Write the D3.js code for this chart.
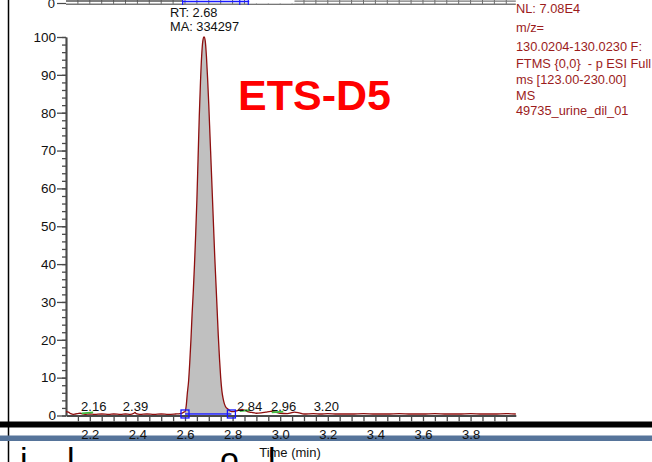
<!DOCTYPE html>
<html>
<head>
<meta charset="utf-8">
<script src="https://cdn.jsdelivr.net/npm/d3@7"></script>
<style>
  html, body { margin: 0; padding: 0; background: #fff; }
  svg { display: block; font-family: "Liberation Sans", Arial, Helvetica, sans-serif; }
  text { white-space: pre; }
</style>
</head>
<body>
<svg id="chart" width="652" height="462"></svg>
<script>
// ---- chromatogram trace: retention time (min) and relative abundance (%) ----
const traceTime = [
  2.100, 2.110, 2.120, 2.130, 2.140, 2.150, 2.160, 2.170, 2.180, 2.200,
  2.220, 2.250, 2.280, 2.300, 2.330, 2.350, 2.370, 2.385, 2.390, 2.395,
  2.410, 2.440, 2.470, 2.500, 2.530, 2.560, 2.580, 2.590, 2.595,
  2.600, 2.605, 2.610, 2.615, 2.620, 2.625, 2.630, 2.635, 2.640, 2.645,
  2.650, 2.655, 2.660, 2.665, 2.670, 2.675, 2.680, 2.685, 2.690, 2.695,
  2.700, 2.705, 2.710, 2.715, 2.720, 2.725, 2.730, 2.735, 2.740, 2.745,
  2.750, 2.755, 2.760, 2.765, 2.770, 2.780, 2.790,
  2.800, 2.810, 2.820, 2.830, 2.840, 2.850, 2.860, 2.880, 2.900, 2.920,
  2.940, 2.960, 2.980, 3.000, 3.030, 3.060, 3.080, 3.100, 3.140, 3.170,
  3.200, 3.240, 3.300, 3.350, 3.400, 3.450, 3.500, 3.550, 3.600, 3.650,
  3.700, 3.750, 3.800, 3.850, 3.900, 3.950, 3.990
];
const traceIntensity = [
  1.0, 0.9, 0.5, 0.3, 0.4, 0.5, 0.6, 0.4, 0.3, 0.4,
  0.3, 0.4, 0.3, 0.4, 0.3, 0.4, 0.3, 0.6, 0.8, 0.5,
  0.3, 0.4, 0.3, 0.4, 0.3, 0.4, 0.5, 0.7, 0.9,
  1.0, 2.5, 6, 9, 14, 20, 27, 33, 40, 48,
  57, 68, 79, 88, 95, 99, 100, 99, 95, 89,
  82, 74, 66, 58, 50, 42, 35, 28, 21, 15,
  10, 6.5, 4.5, 3.2, 2.4, 1.7, 1.2,
  1.0, 1.1, 1.3, 1.5, 1.6, 1.4, 1.1, 0.8, 0.6, 0.7,
  0.9, 1.1, 0.9, 0.6, 0.5, 0.9, 0.7, 0.4, 0.5, 0.4,
  0.5, 0.4, 0.4, 0.5, 0.4, 0.4, 0.5, 0.4, 0.4, 0.5,
  0.4, 0.4, 0.5, 0.4, 0.4, 0.5, 0.4
];

// integrated peak: start/end time and baseline level (%)
const peakBoundTime = [2.600, 2.795];
const peakBoundLevel = [0.4, 0.4];
const peakLabelLines = ["RT: 2.68", "MA: 334297"];

// small detected peaks: label, and their short baseline segments
const minorPeakLabels = ["2.16", "2.39", "2.84", "2.96", "3.20"];
const minorPeakTimes = [2.16, 2.39, 2.84, 2.96, 3.20];
const minorBaseStart = [2.166, 2.830, 2.965];
const minorBaseEnd = [2.214, 2.872, 3.013];
const minorBaseStartLevel = [0.55, 1.15, 0.85];
const minorBaseEndLevel = [0.8, 1.4, 1.0];

// axes
const yTickValues = [0, 10, 20, 30, 40, 50, 60, 70, 80, 90, 100];
const yMinorValues = d3.range(0, 101, 2);
const xTickLabels = [2.2, 2.4, 2.6, 2.8, 3.0, 3.2, 3.4, 3.6, 3.8];
const xMinorValues = d3.range(0, 37).map(i => +(2.15 + i * 0.05).toFixed(2));
const xTitle = "Time (min)";

const titleText = "ETS-D5";
const headerLines = [
  "NL: 7.08E4",
  "m/z=",
  "130.0204-130.0230 F:",
  "FTMS {0,0}  - p ESI Full",
  "ms [123.00-230.00]",
  "MS",
  "49735_urine_dil_01"
];
const footerGlyphs = ["i", "l", "o", "l"];

// ---- layout ----
const svg = d3.select("#chart");
const x = d3.scaleLinear().domain([2.1, 3.99]).range([66, 515.8]);
const y = d3.scaleLinear().domain([0, 100]).range([415.5, 37]);
const axisColor = "#4a4a4a";
const traceColor = "#8e0f0f";

svg.append("rect").attr("width", 652).attr("height", 462).attr("fill", "#fff");

// strip of the neighbouring plot above (its zero line and time ticks)
const strip = svg.append("g").attr("class", "upper-strip");
strip.append("line").attr("x1", 57).attr("x2", 66).attr("y1", 3.5).attr("y2", 3.5)
  .attr("stroke", axisColor).attr("stroke-width", 1.2);
strip.append("text").attr("x", 55).attr("y", 7.5).attr("text-anchor", "end")
  .attr("font-size", 13).attr("fill", "#111").text("0");
strip.selectAll("line.st").data(xMinorValues).join("line").attr("class", "st")
  .attr("x1", d => x(d)).attr("x2", d => x(d)).attr("y1", 0).attr("y2", 4)
  .attr("stroke", "#666").attr("stroke-width", 1);
strip.append("line").attr("x1", 66).attr("x2", 515.8).attr("y1", 4.2).attr("y2", 4.2)
  .attr("stroke", "#777").attr("stroke-width", 1.4);
strip.append("line").attr("x1", 66).attr("x2", x(2.59)).attr("y1", 1).attr("y2", 1)
  .attr("stroke", "#555").attr("stroke-width", 1.6);
strip.append("rect").attr("x", x(2.87)).attr("y", 0).attr("width", x(3.06) - x(2.87)).attr("height", 3.4)
  .attr("fill", "#fff");
strip.append("line").attr("x1", x(3.06)).attr("x2", 515.8).attr("y1", 1.2).attr("y2", 1.2)
  .attr("stroke", "#777").attr("stroke-width", 1.2);
strip.append("line").attr("x1", x(2.59)).attr("x2", x(2.87)).attr("y1", 1.5).attr("y2", 1.5)
  .attr("stroke", "#1a1aff").attr("stroke-width", 1.4);
strip.selectAll("line.bt").data([2.59, 2.83, 2.866]).join("line").attr("class", "bt")
  .attr("x1", d => x(d)).attr("x2", d => x(d)).attr("y1", 0).attr("y2", 5)
  .attr("stroke", "#1a1aff").attr("stroke-width", 1.2);

// frame line at the left edge
svg.append("line").attr("x1", 8.5).attr("x2", 8.5).attr("y1", 0).attr("y2", 462)
  .attr("stroke", "#000").attr("stroke-width", 1.5);

// separator bars below the time axis
svg.append("rect").attr("x", 0).attr("y", 421.5).attr("width", 652).attr("height", 6).attr("fill", "#000");
svg.append("rect").attr("x", 0).attr("y", 435.5).attr("width", 652).attr("height", 5.5).attr("fill", "#56749a");

// y axis (major + minor ticks)
const yAxisG = svg.append("g").attr("transform", "translate(66,0)")
  .call(d3.axisLeft(y).tickValues(yTickValues).tickSize(9).tickSizeOuter(0).tickPadding(1).tickFormat(d3.format("d")));
const yMinorG = svg.append("g").attr("transform", "translate(66,0)")
  .call(d3.axisLeft(y).tickValues(yMinorValues).tickSize(4).tickSizeOuter(0).tickFormat(""));
[yAxisG, yMinorG].forEach(g => {
  g.selectAll("path, line").attr("stroke", axisColor).attr("stroke-width", 1.3);
});
yAxisG.attr("font-family", null);
yAxisG.selectAll("text").attr("font-size", 13.5).attr("fill", "#111");
yMinorG.select(".domain").attr("stroke-width", 2);

// x axis: minor ticks, then labels below the bars
const xTickG = svg.append("g").attr("transform", "translate(0,415.5)")
  .call(d3.axisBottom(x).tickValues(xMinorValues).tickSize(6).tickSizeOuter(0).tickFormat(""));
xTickG.selectAll("path, line").attr("stroke", axisColor).attr("stroke-width", 1.3);
xTickG.select(".domain").attr("stroke-width", 1.8);
const xLabelG = svg.append("g").attr("transform", "translate(0,415.5)")
  .call(d3.axisBottom(x).tickValues(xTickLabels).tickSize(0).tickPadding(14).tickFormat(d3.format(".1f")));
xLabelG.attr("font-family", null);
xLabelG.select(".domain").remove();
xLabelG.selectAll("text").attr("font-size", 13).attr("fill", "#111");

svg.append("text").attr("x", 290).attr("y", 456.5).attr("text-anchor", "middle")
  .attr("font-size", 13).attr("fill", "#111").text(xTitle);

// ---- trace ----
const pts = traceTime.map((t, i) => ({ t, v: traceIntensity[i] }));
const baseAt = t => peakBoundLevel[0] + (peakBoundLevel[1] - peakBoundLevel[0]) *
  (t - peakBoundTime[0]) / (peakBoundTime[1] - peakBoundTime[0]);
const inPeak = pts.filter(p => p.t >= peakBoundTime[0] - 1e-9 && p.t <= peakBoundTime[1] + 1e-9);

svg.append("path").datum(inPeak)
  .attr("d", d3.area().x(p => x(p.t)).y0(p => y(baseAt(p.t))).y1(p => y(Math.max(p.v, baseAt(p.t))))
    .curve(d3.curveMonotoneX))
  .attr("fill", "#c0c0c0");

svg.append("path").datum(pts)
  .attr("d", d3.line().x(p => x(p.t)).y(p => y(p.v)).curve(d3.curveMonotoneX))
  .attr("fill", "none").attr("stroke", traceColor).attr("stroke-width", 1.3);

// integration baseline and its end markers
svg.append("line")
  .attr("x1", x(peakBoundTime[0])).attr("x2", x(peakBoundTime[1]))
  .attr("y1", y(peakBoundLevel[0])).attr("y2", y(peakBoundLevel[1]))
  .attr("stroke", "#2020ff").attr("stroke-width", 1.5);
svg.selectAll("rect.marker").data(peakBoundTime).join("rect").attr("class", "marker")
  .attr("x", (d) => x(d) - 4).attr("y", (d, i) => y(peakBoundLevel[i]) - 4)
  .attr("width", 8).attr("height", 8)
  .attr("fill", "none").attr("stroke", "#1515ff").attr("stroke-width", 1.3);

// minor peak baselines (green) and labels
svg.selectAll("line.minor").data(minorBaseStart).join("line").attr("class", "minor")
  .attr("x1", d => x(d)).attr("x2", (d, i) => x(minorBaseEnd[i]))
  .attr("y1", (d, i) => y(minorBaseStartLevel[i])).attr("y2", (d, i) => y(minorBaseEndLevel[i]))
  .attr("stroke", "#3fbf3f").attr("stroke-width", 1.8);

const minorLabelNudge = [13.5, 0.5, 7.5, 13, -1.5];
svg.selectAll("text.minor").data(minorPeakLabels).join("text").attr("class", "minor")
  .attr("x", (d, i) => x(minorPeakTimes[i]) + minorLabelNudge[i])
  .attr("y", 411).attr("text-anchor", "middle")
  .attr("font-size", 13).attr("fill", "#111").text(d => d);

// main peak annotation
svg.selectAll("text.peak").data(peakLabelLines).join("text").attr("class", "peak")
  .attr("x", 170).attr("y", (d, i) => 16.5 + i * 14.5)
  .attr("font-size", 12.8).attr("fill", "#111").text(d => d);

// sample title
svg.append("text").attr("x", 238).attr("y", 110)
  .attr("font-size", 43).attr("font-weight", "bold").attr("fill", "#ff0000").text(titleText);

// scan header
svg.selectAll("text.hdr").data(headerLines).join("text").attr("class", "hdr")
  .attr("x", 516).attr("y", (d, i) => [13, 32, 51, 67.5, 83.5, 99.5, 115][i])
  .attr("font-size", 12.8).attr("fill", "#9b1c1c").text(d => d);

// caption of the next panel, clipped by the page edge
svg.selectAll("text.foot").data(footerGlyphs).join("text").attr("class", "foot")
  .attr("x", (d, i) => [20, 67, 220, 268][i]).attr("y", 471)
  .attr("font-size", 34).attr("fill", "#000").text(d => d);
</script>
</body>
</html>
